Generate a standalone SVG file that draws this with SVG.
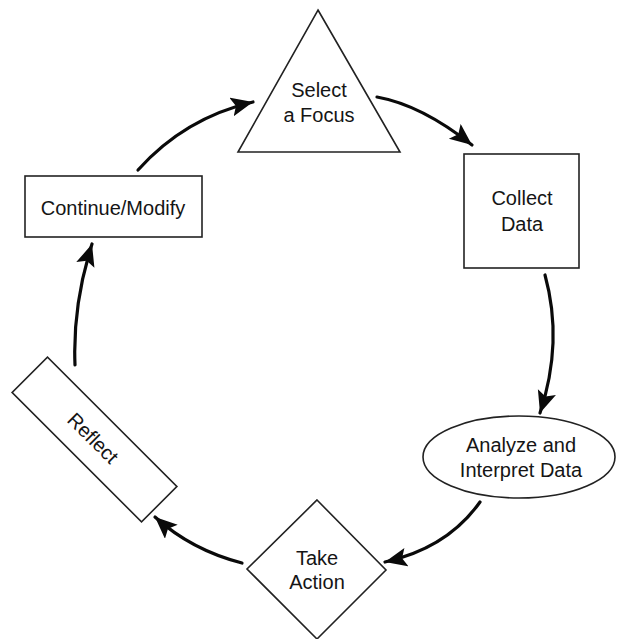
<svg xmlns="http://www.w3.org/2000/svg" width="617" height="639" viewBox="0 0 617 639">
<style>
.shape{fill:#fff;stroke:#222;stroke-width:1.6}
.lbl{font-family:"Liberation Sans",Arial,sans-serif;font-size:20px;fill:#151515;text-anchor:middle}
.conn{fill:none;stroke:#0a0a0a;stroke-width:3.2;stroke-linecap:round}
</style>
<defs>
<marker id="ah" markerUnits="userSpaceOnUse" markerWidth="24" markerHeight="20" refX="22" refY="9.5" orient="auto">
<path d="M0,0 L22,9.5 L0,19 L4.5,9.5 z" fill="#0a0a0a"/>
</marker>
</defs>
<rect width="617" height="639" fill="#fff"/>
<g id="select-focus">
<polygon class="shape" points="318,10 400,152 238,152"/>
<text class="lbl" x="319" y="97">Select</text>
<text class="lbl" x="319" y="122">a Focus</text>
</g>
<g id="collect-data">
<rect class="shape" x="464" y="154" width="115" height="114"/>
<text class="lbl" x="522" y="205">Collect</text>
<text class="lbl" x="522" y="231">Data</text>
</g>
<g id="analyze">
<ellipse class="shape" cx="519" cy="457" rx="96" ry="41"/>
<text class="lbl" x="521" y="452">Analyze and</text>
<text class="lbl" x="521" y="477">Interpret Data</text>
</g>
<g id="take-action">
<polygon class="shape" points="317,500 386,570 317,639 247,569"/>
<text class="lbl" x="317" y="565">Take</text>
<text class="lbl" x="317" y="589">Action</text>
</g>
<g id="reflect">
<rect class="shape" x="-91.5" y="-25" width="183" height="50" transform="translate(94.5,439.5) rotate(45)"/>
<text class="lbl" x="0" y="7" transform="translate(93,438) rotate(45)">Reflect</text>
</g>
<g id="continue-modify">
<rect class="shape" x="25" y="176" width="177" height="61"/>
<text class="lbl" x="113" y="215">Continue/Modify</text>
</g>
<g id="connectors">
<path class="conn" marker-end="url(#ah)" d="M138,170 Q184.5,118 253,102"/>
<path class="conn" marker-end="url(#ah)" d="M377,97 Q421.5,105 472,145"/>
<path class="conn" marker-end="url(#ah)" d="M545,275 Q563.5,342 540,413"/>
<path class="conn" marker-end="url(#ah)" d="M480,502 Q447.5,548 385,562"/>
<path class="conn" marker-end="url(#ah)" d="M242,563 Q191.5,550 155,517"/>
<path class="conn" marker-end="url(#ah)" d="M75,365 Q72.5,305.5 92,244"/>
</g>
</svg>
